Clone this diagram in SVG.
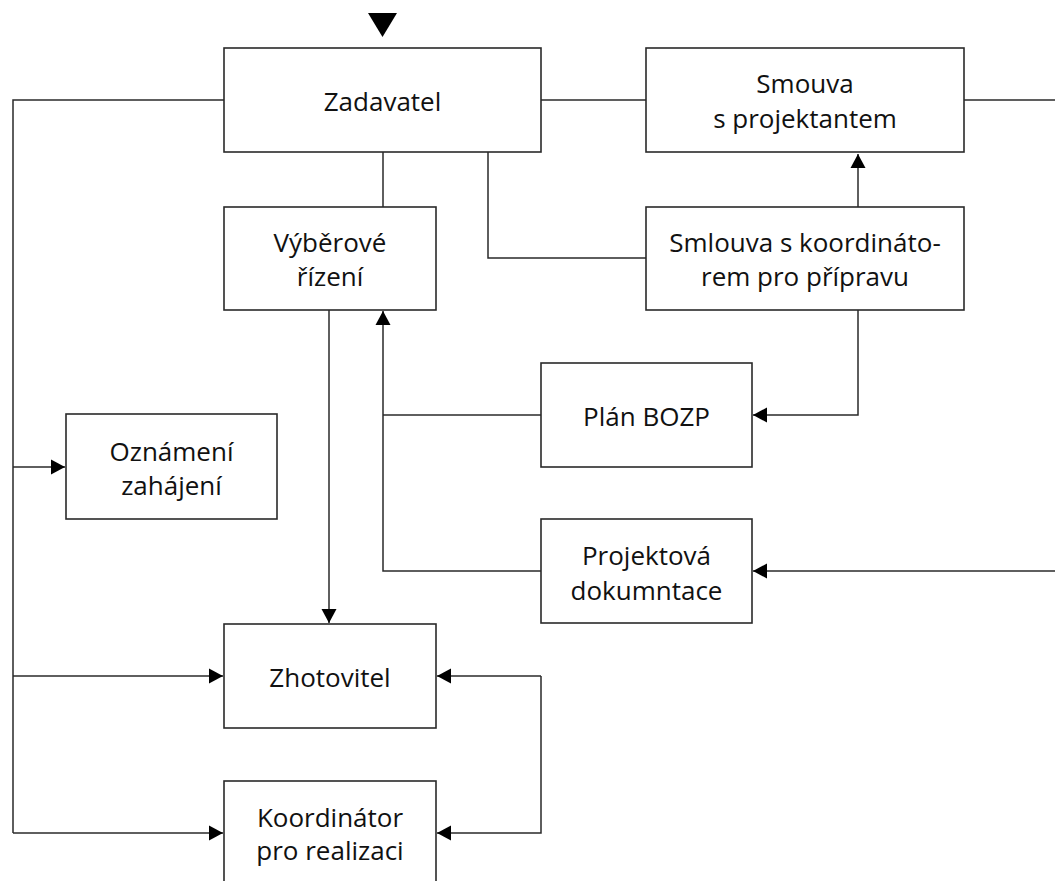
<svg xmlns="http://www.w3.org/2000/svg" width="1055" height="881" viewBox="0 0 1055 881">
<style>
.box{fill:#fff;stroke:#2a2a2a;stroke-width:1.6}
.ln{fill:none;stroke:#2a2a2a;stroke-width:1.5}
.t{font-family:"Open Sans","Noto Sans",sans-serif;font-size:26px;fill:#111;text-anchor:middle}
</style>
<defs>
<marker id="ah" markerUnits="userSpaceOnUse" markerWidth="16" markerHeight="16" viewBox="0 0 16 16" refX="15" refY="8" orient="auto">
<path d="M1,0.5 L15,8 L1,15.5 Z" fill="#000"/>
</marker>
</defs>
<rect width="1055" height="881" fill="#fff"/>
<g id="connectors">
<polygon points="368,13 397,13 382.5,37" fill="#000"/>
<path class="ln" d="M224,100 H13 V833"/>
<path class="ln" d="M13,467 H65" marker-end="url(#ah)"/>
<path class="ln" d="M13,676 H223" marker-end="url(#ah)"/>
<path class="ln" d="M13,833 H223" marker-end="url(#ah)"/>
<path class="ln" d="M541,100 H646"/>
<path class="ln" d="M964,100 H1055"/>
<path class="ln" d="M383,152 V207"/>
<path class="ln" d="M488,152 V258 H646"/>
<path class="ln" d="M858,207 V154" marker-end="url(#ah)"/>
<path class="ln" d="M858,310 V415 H753" marker-end="url(#ah)"/>
<path class="ln" d="M541,415 H383"/>
<path class="ln" d="M541,571 H383 V311" marker-end="url(#ah)"/>
<path class="ln" d="M1055,571 H753" marker-end="url(#ah)"/>
<path class="ln" d="M329,310 V623" marker-end="url(#ah)"/>
<path class="ln" d="M541,676 H437" marker-end="url(#ah)"/>
<path class="ln" d="M541,676 V833 H437" marker-end="url(#ah)"/>
</g>
<g id="zadavatel"><rect class="box" x="224" y="48" width="317" height="104"/><text class="t" x="382.5" y="111">Zadavatel</text></g>
<g id="smouva"><rect class="box" x="646" y="48" width="318" height="104"/><text class="t" x="805" y="93">Smouva</text><text class="t" x="805" y="128">s projektantem</text></g>
<g id="vyberove"><rect class="box" x="224" y="207" width="212" height="103"/><text class="t" x="330" y="252">Výběrové</text><text class="t" x="330" y="286">řízení</text></g>
<g id="smlouva"><rect class="box" x="646" y="207" width="318" height="103"/><text class="t" x="805" y="252">Smlouva s koordináto-</text><text class="t" x="805" y="286">rem pro přípravu</text></g>
<g id="plan"><rect class="box" x="541" y="363" width="211" height="104"/><text class="t" x="646.5" y="426">Plán BOZP</text></g>
<g id="oznameni"><rect class="box" x="66" y="414" width="211" height="105"/><text class="t" x="171.5" y="461">Oznámení</text><text class="t" x="171.5" y="495">zahájení</text></g>
<g id="projektova"><rect class="box" x="541" y="519" width="211" height="104"/><text class="t" x="646.5" y="565">Projektová</text><text class="t" x="646.5" y="600">dokumntace</text></g>
<g id="zhotovitel"><rect class="box" x="224" y="624" width="212" height="104"/><text class="t" x="330" y="687">Zhotovitel</text></g>
<g id="koordinator"><rect class="box" x="224" y="781" width="212" height="110"/><text class="t" x="330" y="827">Koordinátor</text><text class="t" x="330" y="860">pro realizaci</text></g>
</svg>
